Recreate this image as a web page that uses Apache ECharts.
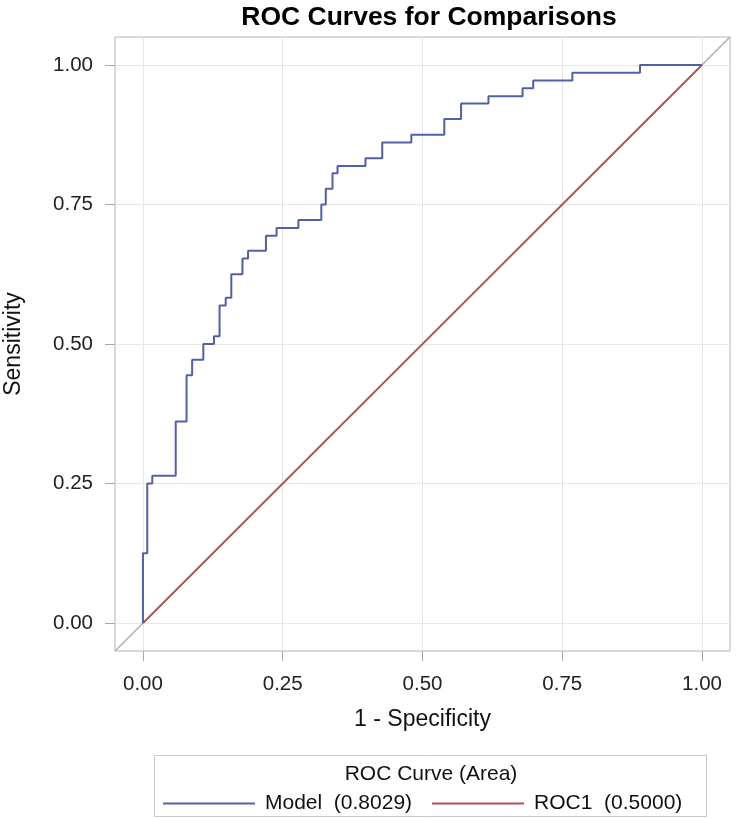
<!DOCTYPE html>
<html>
<head>
<meta charset="utf-8">
<script src="https://cdn.jsdelivr.net/npm/echarts@6/dist/echarts.min.js"></script>
<style>
html,body{margin:0;padding:0;background:#fff;}
#chart{width:736px;height:818px;}
</style>
</head>
<body>
<div id="chart"></div>
<script>
// Model ROC curve vertices (1 - specificity, sensitivity), step curve
const modelFpr = [0, 0, 0.0077, 0.0167, 0.0586, 0.078, 0.088, 0.108, 0.127, 0.137, 0.148, 0.158, 0.178, 0.188, 0.220, 0.239, 0.278, 0.319, 0.327, 0.339, 0.348, 0.398, 0.428, 0.480, 0.539, 0.569, 0.618, 0.679, 0.698, 0.768, 0.889, 1.0];
const modelTpr = [0, 0.125, 0.25, 0.264, 0.361, 0.444, 0.472, 0.5, 0.514, 0.569, 0.583, 0.625, 0.653, 0.667, 0.694, 0.708, 0.722, 0.75, 0.778, 0.806, 0.819, 0.833, 0.861, 0.875, 0.903, 0.931, 0.944, 0.958, 0.972, 0.986, 1.0, 1.0];
// ROC1 (chance) line
const roc1Fpr = [0, 1];
const roc1Tpr = [0, 1];
// Reference diagonal across the full plot
const refXY = [-0.05, 1.05];
// Series names and areas
const seriesNames = ['Model', 'ROC1'];
const areas = ['0.8029', '0.5000'];
// Axis ticks
const tickValues = [0, 0.25, 0.5, 0.75, 1];
const tickLabels = ['0.00', '0.25', '0.50', '0.75', '1.00'];
const axisRange = [-0.05, 1.05];

const FONT = 'Liberation Sans, Arial, sans-serif';
const chart = echarts.init(document.getElementById('chart'), null, {renderer: 'canvas'});

function axisCfg(name, isY) {
  return {
    type: 'value',
    min: axisRange[0],
    max: axisRange[1],
    name: name,
    nameLocation: 'middle',
    nameGap: isY ? 90 : 57,
    nameTextStyle: {fontFamily: FONT, fontSize: 23, color: '#111'},
    axisLine: {show: false, onZero: false},
    axisTick: {show: true, length: 10, customValues: tickValues, lineStyle: {color: '#a8a8a8'}},
    axisLabel: {
      show: true, customValues: tickValues, margin: isY ? 22 : 23,
      fontFamily: FONT, fontSize: 20.5, color: '#222',
      formatter: function (v) { const i = tickValues.indexOf(v); return i >= 0 ? tickLabels[i] : ''; }
    },
    splitLine: {show: true, lineStyle: {color: '#e6e6e6', width: 1}}
  };
}

const option = {
  animation: false,
  backgroundColor: '#fff',
  title: {
    text: 'ROC Curves for Comparisons',
    left: 424, top: -1, textAlign: 'center',
    textStyle: {fontFamily: FONT, fontSize: 26.5, fontWeight: 'bold', color: '#000'}
  },
  grid: {left: 115, right: 6, top: 37, bottom: 167, show: true, borderColor: '#b4b4b4', borderWidth: 1, backgroundColor: 'transparent', outerBoundsMode: 'none', containLabel: false},
  xAxis: axisCfg('1 - Specificity', false),
  yAxis: axisCfg('Sensitivity', true),
  legend: {
    data: seriesNames,
    left: 158, top: 788,
    icon: 'rect', itemWidth: 92, itemHeight: 2, itemGap: 20,
    textStyle: {fontFamily: FONT, fontSize: 21, color: '#111', padding: [0, 0, 0, 5]},
    formatter: function (n) { return n + '  (' + areas[seriesNames.indexOf(n)] + ')'; },
    selectedMode: false
  },
  graphic: [
    {type: 'rect', shape: {x: 154.5, y: 755.5, width: 552, height: 61}, style: {fill: 'none', stroke: '#c8c8c8', lineWidth: 1}, z: -1},
    {type: 'text', x: 431, y: 774, style: {text: 'ROC Curve (Area)', fontFamily: FONT, fontSize: 21, fill: '#111', align: 'center', verticalAlign: 'middle'}}
  ],
  series: [
    {
      name: 'ref', type: 'line', silent: true, symbol: 'none', z: 1,
      data: [[refXY[0], refXY[0]], [refXY[1], refXY[1]]],
      lineStyle: {color: '#b0b0b0', width: 1.5}
    },
    {
      name: seriesNames[1], type: 'line', symbol: 'none', z: 2,
      data: roc1Fpr.map((x, i) => [x, roc1Tpr[i]]),
      lineStyle: {color: '#b5524a', width: 2}, itemStyle: {color: '#b5524a'}
    },
    {
      name: seriesNames[0], type: 'line', symbol: 'none', z: 3, step: 'end',
      data: modelFpr.map((x, i) => [x, modelTpr[i]]),
      lineStyle: {color: '#5060aa', width: 2}, itemStyle: {color: '#5060aa'}
    }
  ]
};
chart.setOption(option);
</script>
</body>
</html>
